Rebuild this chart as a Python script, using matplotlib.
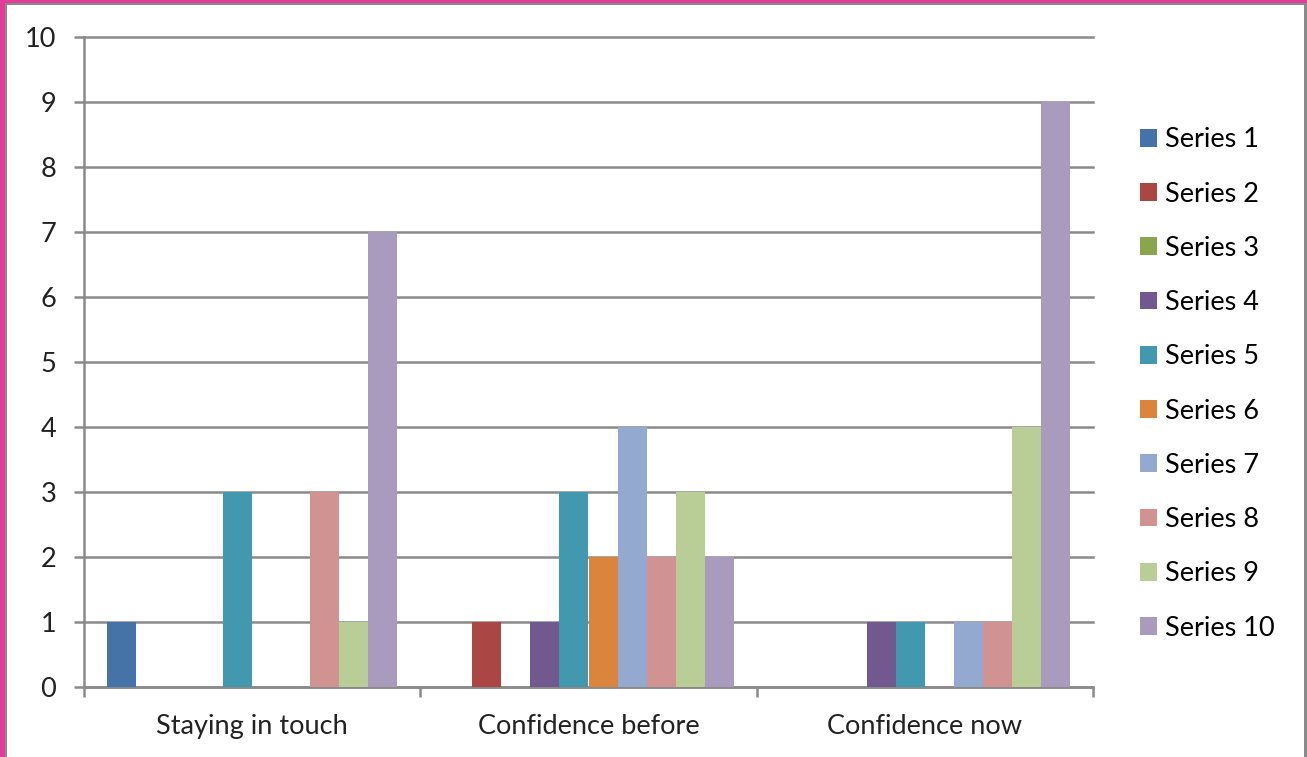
import matplotlib
matplotlib.use('Agg')
import matplotlib.pyplot as plt
from matplotlib.patches import Rectangle
import numpy as np

categories = ["Staying in touch", "Confidence before", "Confidence now"]
series_names = ["Series 1", "Series 2", "Series 3", "Series 4", "Series 5",
                "Series 6", "Series 7", "Series 8", "Series 9", "Series 10"]
# values per series, one entry per category
s1 = [1, 0, 0]
s2 = [0, 1, 0]
s3 = [0, 0, 0]
s4 = [0, 1, 1]
s5 = [3, 3, 1]
s6 = [0, 2, 0]
s7 = [0, 4, 1]
s8 = [3, 2, 1]
s9 = [1, 3, 4]
s10 = [7, 2, 9]
series_values = [s1, s2, s3, s4, s5, s6, s7, s8, s9, s10]
colors = ["#4572A7", "#AA4643", "#89A54E", "#71588F", "#4198AF",
          "#DB843D", "#93A9CF", "#D19392", "#B9CD96", "#A99BBD"]

plt.rcParams['font.family'] = ['Lato', 'DejaVu Sans']
grey = "#8a8a8a"
fs = 19.5

fig = plt.figure(figsize=(13.07, 7.57), dpi=100)
ax = fig.add_axes([84 / 1307, 70 / 757, (1093 - 84) / 1307, (687 - 37) / 757])

n = len(series_values)
bar_w = 29 / 336
gap = 1 - n * bar_w
x = np.arange(len(categories))
for i, (vals, name, c) in enumerate(zip(series_values, series_names, colors)):
    ax.bar(x + gap / 2 + i * bar_w, vals, width=bar_w, align='edge',
           color=c, label=name, zorder=3, linewidth=0)

ax.set_xlim(0, 3)
ax.set_ylim(0, 10)
ax.set_yticks(range(0, 11))
ax.yaxis.grid(True, color=grey, linewidth=1.8, zorder=1)
for gl in ax.get_ygridlines():
    gl.set_clip_on(False)
ax.set_axisbelow(True)

ax.set_xticks(x + 0.5)
ax.set_xticklabels(categories, fontsize=fs, color="#222222")
ax.set_xticks([0, 1, 2, 3], minor=True)
ax.tick_params(axis='x', which='major', length=0, pad=19.5)
ax.tick_params(axis='x', which='minor', length=7, width=1.8, color=grey)
ax.tick_params(axis='y', length=7, width=1.8, color=grey, pad=13,
               labelsize=fs, labelcolor="#222222")

for side in ['top', 'right']:
    ax.spines[side].set_visible(False)
for side in ['left', 'bottom']:
    ax.spines[side].set_color(grey)
    ax.spines[side].set_linewidth(1.8)

fig.legend(loc='center left', bbox_to_anchor=(1140 / 1307, 1 - 384 / 757),
           frameon=False, fontsize=fs, handlelength=0.63, handleheight=0.63,
           handletextpad=0.3, labelspacing=1.08, borderpad=0, borderaxespad=0)

# frame: pink outer border with grey inner line
pink = "#E43A98"
fig.add_artist(Rectangle((0, 1 - 3 / 757), 1, 3 / 757, transform=fig.transFigure,
                         color=pink, lw=0))
fig.add_artist(Rectangle((0, 1 - 5 / 757), 1, 2 / 757, transform=fig.transFigure,
                         color=grey, lw=0))
fig.add_artist(Rectangle((0, 0), 5 / 1307, 1, transform=fig.transFigure,
                         color=pink, lw=0))
fig.add_artist(Rectangle((5 / 1307, 0), 2 / 1307, 1 - 3 / 757, transform=fig.transFigure,
                         color=grey, lw=0))
fig.add_artist(Rectangle((1 - 3 / 1307, 0), 3 / 1307, 1 - 3 / 757, transform=fig.transFigure,
                         color=grey, lw=0))

fig.savefig("out.png", dpi=100)
plt.close(fig)
